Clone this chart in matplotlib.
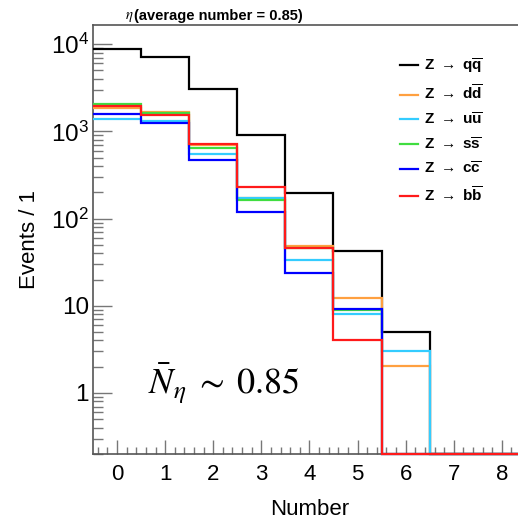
import matplotlib
matplotlib.use("Agg")
import matplotlib.pyplot as plt
from matplotlib.ticker import FixedLocator, MultipleLocator, LogLocator, FuncFormatter, NullFormatter
import numpy as np

plt.rcParams['font.family'] = ['Liberation Sans', 'DejaVu Sans']
plt.rcParams['mathtext.fontset'] = 'custom'
plt.rcParams['mathtext.rm'] = 'Liberation Sans'
plt.rcParams['mathtext.bf'] = 'Liberation Sans:bold'
plt.rcParams['mathtext.it'] = 'Liberation Sans:italic'

# eta multiplicity per event, bins of width 1 centred on 0..9
edges = np.arange(-0.5, 10.0, 1.0)
qq = [8700, 7200, 3030, 900, 198, 42, 5.0, 0, 0, 0]
dd = [1850, 1660, 700, 170, 48, 12.2, 2.05, 0, 0, 0]
uu = [1390, 1300, 545, 170, 33.5, 8.1, 3.05, 0, 0, 0]
ss = [2030, 1600, 645, 165, 46, 9.0, 0, 0, 0, 0]
cc = [1580, 1230, 470, 119, 24, 9.1, 0, 0, 0, 0]
bb = [1930, 1550, 720, 228, 46, 4.0, 0, 0, 0, 0]

labels = [r'$\mathbf{Z}$ $\rightarrow$ $\mathbf{q\overline{q}}$',
          r'$\mathbf{Z}$ $\rightarrow$ $\mathbf{d\overline{d}}$',
          r'$\mathbf{Z}$ $\rightarrow$ $\mathbf{u\overline{u}}$',
          r'$\mathbf{Z}$ $\rightarrow$ $\mathbf{s\overline{s}}$',
          r'$\mathbf{Z}$ $\rightarrow$ $\mathbf{c\overline{c}}$',
          r'$\mathbf{Z}$ $\rightarrow$ $\mathbf{b\overline{b}}$']
colors = ['black', '#ffa040', '#33ccff', '#40dd40', '#0000ff', '#ff1a1a']

ymin, ymax = 0.2, 16500

fig = plt.figure(figsize=(5.18, 5.23), dpi=100)
ax = fig.add_axes([0.1795, 0.132, 0.9286, 0.820])

for vals, lab, col in zip([qq, dd, uu, ss, cc, bb], labels, colors):
    # empty bins sit on the bottom of the log axis
    v = np.maximum(np.array(vals, dtype=float), ymin)
    ax.stairs(v, edges, color=col, lw=1.6, label=lab, baseline=None,
              clip_on=False, zorder=3)

ax.set_yscale('log')
ax.set_xlim(-0.5, 9.5)
ax.set_ylim(ymin, ymax)

for s in ax.spines.values():
    s.set_color('#555555')
    s.set_linewidth(1.2)

ax.xaxis.set_major_locator(FixedLocator(range(0, 9)))
ax.xaxis.set_minor_locator(MultipleLocator(0.2))
ax.yaxis.set_major_locator(LogLocator(base=10, numticks=10))
ax.yaxis.set_minor_locator(LogLocator(base=10, subs=np.arange(2, 10), numticks=20))
ax.yaxis.set_minor_formatter(NullFormatter())


def ylab(v, pos):
    if v == 1:
        return '1'
    if v == 10:
        return '10'
    return r'$10^{%d}$' % int(round(np.log10(v)))


ax.yaxis.set_major_formatter(FuncFormatter(ylab))
ax.tick_params(axis='both', which='both', direction='in', colors='#777777',
               labelcolor='black')
ax.tick_params(axis='x', which='major', length=10, width=1.0, top=False, pad=7,
               labelsize=16)
ax.tick_params(axis='x', which='minor', length=5, width=1.0, top=False)
ax.tick_params(axis='y', which='major', length=14, width=1.0, right=False,
               labelsize=17.5, pad=3)
ax.tick_params(axis='y', which='minor', length=7, width=1.0, right=False)

ax.set_xlabel('Number', fontsize=16)
ax.xaxis.set_label_coords(0.45, -0.105)
ax.set_ylabel('Events / 1', fontsize=16)
ax.yaxis.set_label_coords(-0.11, 0.5)

fig.text(0.241, 0.967, r'$\eta$', fontsize=10.5, ha='left', va='center',
         math_fontfamily='stix')
fig.text(0.259, 0.969, '(average number = 0.85)', fontsize=10.5, ha='left',
         va='center', fontweight='bold')

ax.text(0.115, 0.14, r'$\bar{N}_{\eta}\;\sim\;0.85$', transform=ax.transAxes,
        fontsize=26, math_fontfamily='stix')

fig.legend(loc='upper left', bbox_to_anchor=(0.745, 0.918), frameon=False,
           handlelength=1.2, handletextpad=0.4, labelspacing=0.55, fontsize=11)

fig.savefig('out.png', dpi=100)
